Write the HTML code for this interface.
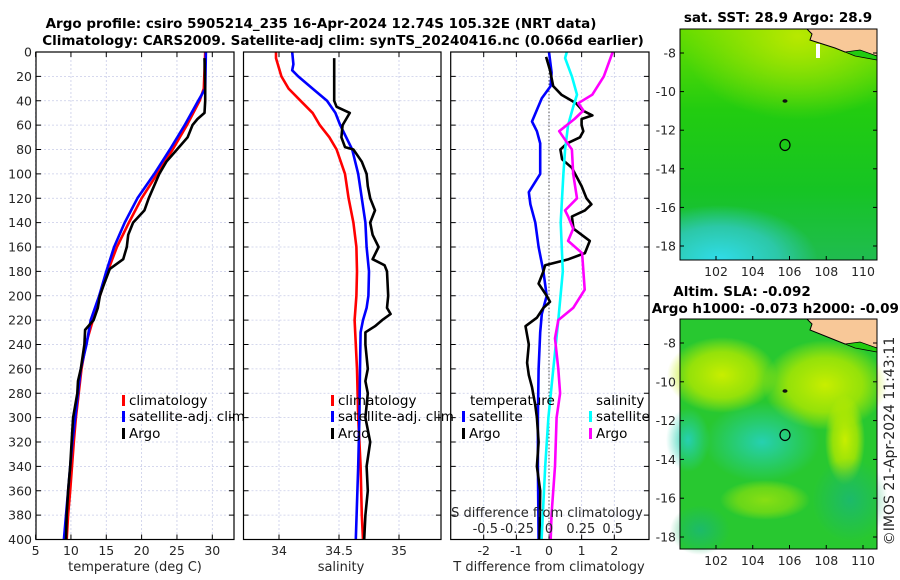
<!DOCTYPE html>
<html><head><meta charset="utf-8">
<style>
html,body{margin:0;padding:0;background:#fff;}
svg{display:block;font-family:"DejaVu Sans","Liberation Sans",sans-serif;}
.tk{font-size:12.5px;fill:#262626;}
.tt{font-size:13.5px;font-weight:bold;fill:#000;}
.lg{font-size:13.5px;fill:#000;}
.at{font-size:13px;fill:#262626;}
</style></head>
<body>
<svg id="fig" width="900" height="580" viewBox="0 0 900 580">
<defs>
<radialGradient id="m1top" cx="0.6" cy="0.05" r="0.6"><stop offset="0" stop-color="#b8e800"/><stop offset="1" stop-color="#b8e800" stop-opacity="0"/></radialGradient>
<radialGradient id="m1bot" cx="0.2" cy="1" r="0.5"><stop offset="0" stop-color="#30dcea"/><stop offset="0.6" stop-color="#2cc8a8"/><stop offset="1" stop-color="#2cc8a8" stop-opacity="0"/></radialGradient>
<linearGradient id="m1base" x1="0" y1="0" x2="0" y2="1"><stop offset="0" stop-color="#66dd00"/><stop offset="0.35" stop-color="#22cc10"/><stop offset="0.7" stop-color="#16c424"/><stop offset="1" stop-color="#20bc50"/></linearGradient>
<radialGradient id="y1" cx="0.5" cy="0.5" r="0.5"><stop offset="0" stop-color="#c8ee00"/><stop offset="0.6" stop-color="#b0e800" stop-opacity="0.8"/><stop offset="1" stop-color="#c8ee00" stop-opacity="0"/></radialGradient>
<radialGradient id="c1" cx="0.5" cy="0.5" r="0.5"><stop offset="0" stop-color="#26d0b0"/><stop offset="1" stop-color="#26d0b0" stop-opacity="0"/></radialGradient>
<radialGradient id="g1" cx="0.5" cy="0.5" r="0.5"><stop offset="0" stop-color="#1cba6a"/><stop offset="1" stop-color="#1cba6a" stop-opacity="0"/></radialGradient>
</defs>

<text class="tt" x="321" y="28" text-anchor="middle">Argo profile: csiro 5905214_235 16-Apr-2024 12.74S 105.32E (NRT data)</text>
<text class="tt" x="343" y="45" text-anchor="middle">Climatology: CARS2009. Satellite-adj clim: synTS_20240416.nc (0.066d earlier)</text>

<g id="p1"></g>
<g id="p2"></g>
<g id="p3"></g>

<!-- Map 1 -->
<g>
<text class="tt" x="778" y="22" text-anchor="middle">sat. SST: 28.9 Argo: 28.9</text>
<rect x="680" y="29" width="197" height="231" fill="url(#m1base)"/>
<rect x="680" y="29" width="197" height="140" fill="url(#m1top)"/>
<rect x="680" y="150" width="197" height="110" fill="url(#m1bot)"/>
<path d="M807,29 L877,29 L877,56 L860,52 L845,52 L835,48 L810,40 L812,34 Z" fill="#f8c898" stroke="#000" stroke-width="1"/>
<path d="M845,52 L860,50 L877,56 L877,60 L855,56 Z" fill="#22cc10" stroke="#000" stroke-width="0.8"/>
<path d="M816,44 L820,44 L820,58 L816,58 Z" fill="#fff"/>
<ellipse cx="785" cy="145" rx="5" ry="5.5" fill="none" stroke="#000" stroke-width="1.2"/>
<ellipse cx="785" cy="101" rx="2.5" ry="1.8" fill="#111"/>
<rect x="680" y="29" width="197" height="231" fill="none" stroke="#000" stroke-width="1"/>
</g>
<g id="m1ax"></g>

<!-- Map 2 -->
<g>
<text class="tt" x="742" y="296" text-anchor="middle">Altim. SLA: -0.092</text>
<text class="tt" x="780" y="313" text-anchor="middle">Argo h1000: -0.073 h2000: -0.091</text>
<rect x="680" y="319" width="197" height="230" fill="#28c830"/>
<ellipse cx="722" cy="375" rx="55" ry="38" fill="url(#y1)"/>
<ellipse cx="825" cy="385" rx="62" ry="45" fill="url(#y1)"/>
<ellipse cx="845" cy="440" rx="20" ry="45" fill="url(#y1)"/>
<ellipse cx="765" cy="500" rx="45" ry="20" fill="url(#y1)" opacity="0.6"/>
<ellipse cx="762" cy="442" rx="58" ry="40" fill="url(#c1)"/>
<ellipse cx="688" cy="440" rx="22" ry="32" fill="url(#c1)"/>
<ellipse cx="850" cy="500" rx="38" ry="42" fill="url(#g1)"/>
<ellipse cx="700" cy="530" rx="30" ry="25" fill="url(#g1)"/>
<path d="M807,319 L877,319 L877,348 L860,344 L845,344 L835,340 L810,330 L812,324 Z" fill="#f8c898" stroke="#000" stroke-width="1"/>
<path d="M845,344 L860,342 L877,348 L877,352 L855,348 Z" fill="#22cc10" stroke="#000" stroke-width="0.8"/>
<ellipse cx="785" cy="435" rx="5" ry="5.5" fill="none" stroke="#000" stroke-width="1.2"/>
<ellipse cx="785" cy="391" rx="2.5" ry="1.8" fill="#111"/>
<rect x="680" y="319" width="197" height="230" fill="none" stroke="#000" stroke-width="1"/>
</g>
<g id="m2ax"></g>
<text transform="translate(894,441) rotate(-90)" text-anchor="middle" style="font-size:14px;fill:#262626">©IMOS 21-Apr-2024 11:43:11</text>
</svg>

<script>
// ---------- data ----------
const depthTick = [0,20,40,60,80,100,120,140,160,180,200,220,240,260,280,300,320,340,360,380,400];
const tempTicks = [5,10,15,20,25,30];
const salTicks = [34,34.5,35];
const tdTicks = [-2,-1,0,1,2];
const sdTicks = [-0.5,-0.25,0,0.25,0.5];

const climTDepth = [0,30,40,60,80,100,120,140,160,180,200,220,240,260,280,300,320,340,360,380,400];
const climTemp   = [29.0,28.8,28.2,26.4,24.4,22.2,20.0,18.2,16.5,15.2,14.1,13.1,12.1,11.5,11.1,10.7,10.4,10.15,9.9,9.6,9.4];
const satTDepth  = [0,30,40,60,80,100,120,140,160,180,200,220,240,260,280,300,320,340,360,380,400];
const satTemp    = [29.1,29.0,28.0,26.1,24.0,21.8,19.4,17.6,16.1,15.0,14.0,12.8,12.2,11.4,11.0,10.6,10.2,9.9,9.6,9.3,9.0];
const argoTDepth = [5,30,40,50,55,60,70,80,90,100,120,130,140,150,160,170,178,190,200,210,220,228,240,260,270,280,300,320,340,360,380,400];
const argoTemp   = [28.9,29.0,29.0,28.9,27.9,27.2,26.5,25.0,23.5,22.5,21.0,20.4,18.8,18.1,17.9,17.4,15.5,14.7,14.1,13.8,13.2,12.0,11.9,11.4,11.0,10.9,10.3,10.1,9.9,9.6,9.4,9.3];

const climSDepth = [0,5,20,30,40,50,60,70,80,100,120,140,160,180,200,220,240,260,300,340,380,400];
const climSal    = [33.975,33.975,34.02,34.08,34.18,34.28,34.34,34.42,34.48,34.55,34.58,34.62,34.645,34.65,34.645,34.63,34.64,34.65,34.66,34.68,34.69,34.70];
const satSDepth  = [0,10,15,20,30,40,50,60,80,100,120,140,160,180,200,210,220,230,260,300,340,400];
const satSal     = [34.11,34.12,34.11,34.16,34.28,34.40,34.47,34.51,34.61,34.66,34.69,34.72,34.73,34.75,34.745,34.73,34.70,34.68,34.675,34.67,34.66,34.64];
const argoSDepth = [5,40,45,50,60,70,78,80,90,100,110,120,130,140,150,160,170,175,180,200,210,215,220,225,230,240,260,270,280,300,320,340,360,380,400];
const argoSal    = [34.46,34.46,34.48,34.59,34.53,34.52,34.55,34.62,34.69,34.73,34.74,34.76,34.80,34.76,34.78,34.83,34.78,34.88,34.90,34.91,34.90,34.93,34.86,34.80,34.72,34.72,34.74,34.72,34.74,34.72,34.76,34.73,34.74,34.72,34.71];

const satTdDepth = [0,17,28,38,57,65,75,100,115,125,140,160,180,200,215,230,260,300,340,400];
const satTdiff   = [0,0.08,0.05,-0.22,-0.52,-0.37,-0.27,-0.27,-0.62,-0.57,-0.42,-0.32,-0.17,-0.07,-0.22,-0.27,-0.32,-0.34,-0.34,-0.32];
const argoTdDepth = [4,15,28,35,42,48,52,55,60,65,70,75,80,88,95,110,120,125,130,135,145,155,165,170,175,180,190,200,205,210,218,225,240,255,265,275,290,300,320,340,360,400];
const argoTdiff   = [-0.09,0.03,0.13,0.38,0.83,1.03,1.33,1.0,1.0,1.05,0.95,0.55,0.35,0.4,0.7,1.0,1.15,1.3,1.1,0.7,0.75,1.25,1.1,0.6,-0.12,-0.17,-0.32,-0.07,0.03,-0.17,-0.37,-0.72,-0.62,-0.67,-0.62,-0.52,-0.42,-0.37,-0.32,-0.37,-0.27,-0.29];
const satSdDepth = [0,5,20,35,45,60,80,100,140,180,220,260,300,340,400];
const satSdiff   = [0.14,0.126,0.18,0.22,0.19,0.15,0.126,0.113,0.092,0.108,0.073,0.034,-0.005,-0.03,-0.058];
const argoSdDepth = [0,20,35,42,48,55,65,72,80,100,120,130,135,145,155,165,180,195,210,220,235,260,280,300,340,380,400];
const argoSdiff   = [0.50,0.43,0.34,0.23,0.27,0.20,0.08,0.126,0.18,0.19,0.22,0.126,0.15,0.19,0.15,0.26,0.27,0.28,0.19,0.073,0.047,0.073,0.087,0.06,0.047,0.02,0.013];

const mapLatTicks = [-8,-10,-12,-14,-16,-18];
const mapLonTicks = [102,104,106,108,110];

// ---------- helpers ----------
const NS = 'http://www.w3.org/2000/svg';
function mk(parent, tag, attrs){ const e=document.createElementNS(NS,tag); for(const k in attrs) e.setAttribute(k,attrs[k]); parent.appendChild(e); return e; }
const Y0=52, Y1=539.5;
const yD = d => Y0 + (d/400)*(Y1-Y0);
function lin(d0,d1,r0,r1){ return v => r0 + (v-d0)/(d1-d0)*(r1-r0); }

function panel(g, x0, x1, xTicks, xs, showDepthLabels, xLabelFmt, tickLabelY){
  xTicks.forEach(t=>{ const gl=mk(g,'line',{x1:xs(t),x2:xs(t),y1:Y0,y2:Y1,stroke:'#c8cce8','stroke-width':0.8,'stroke-dasharray':'2,2'});
      });
  depthTick.forEach(t=>{ if(t===0||t===400) return; const gl=mk(g,'line',{x1:x0,x2:x1,y1:yD(t),y2:yD(t),stroke:'#c8cce8','stroke-width':0.8,'stroke-dasharray':'2,2'});
      });
  depthTick.forEach(t=>{
    mk(g,'line',{x1:x0,x2:x0+5,y1:yD(t),y2:yD(t),stroke:'#000'});
    mk(g,'line',{x1:x1,x2:x1-5,y1:yD(t),y2:yD(t),stroke:'#000'});
    if(showDepthLabels){ const tx=mk(g,'text',{x:x0-4,y:yD(t)+4.5,'text-anchor':'end',class:'tk'}); tx.textContent=t;
        }
  });
  if(tickLabelY){ xTicks.forEach(t=>{ mk(g,'line',{x1:xs(t),x2:xs(t),y1:Y1,y2:Y1-5,stroke:'#000'}); mk(g,'line',{x1:xs(t),x2:xs(t),y1:Y0,y2:Y0+5,stroke:'#000'});
    const tx=mk(g,'text',{x:xs(t),y:tickLabelY,'text-anchor':'middle',class:'tk'}); tx.textContent=xLabelFmt(t);
      }); }
}
function frame(g,x0,x1){ const r=mk(g,'rect',{x:x0,y:Y0,width:x1-x0,height:Y1-Y0,fill:'none',stroke:'#000','stroke-width':1.2});
    }
function series(g, vals, depths, xs, color, name){
  const pts = vals.map((v,i)=>xs(v).toFixed(1)+','+yD(depths[i]).toFixed(1)).join(' ');
  const p=mk(g,'polyline',{points:pts,fill:'none',stroke:color,'stroke-width':2.6,'stroke-linejoin':'round'});
   
}
function legendEntry(g,x,y,color,label,name){
  mk(g,'rect',{x:x,y:y-10,width:3,height:11,fill:color});
  const t=mk(g,'text',{x:x+7,y:y,class:'lg'}); t.textContent=label;
   
}

// ---------- panel 1 ----------
const g1=document.getElementById('p1');
const xT = lin(5,30,35.6,212.3);
panel(g1,36,234,tempTicks,xT,true,t=>t,555);
series(g1,climTemp,climTDepth,xT,'#ff0000','climatology-temp-line');
series(g1,satTemp,satTDepth,xT,'#0000ff','satellite-temp-line');
series(g1,argoTemp,argoTDepth,xT,'#000000','argo-temp-line');
legendEntry(g1,122,405,'#ff0000','climatology','legend-climatology');
legendEntry(g1,122,421,'#0000ff','satellite-adj. clim','legend-satellite');
legendEntry(g1,122,438,'#000000','Argo','legend-argo');
frame(g1,36,234);
{const t=mk(g1,'text',{x:135,y:571,'text-anchor':'middle',class:'at'}); t.textContent='temperature (deg C)';
 }

// ---------- panel 2 ----------
const g2=document.getElementById('p2');
const xS = lin(34,35,279,399);
panel(g2,243.5,441,salTicks,xS,false,t=>t,555);
series(g2,climSal,climSDepth,xS,'#ff0000','climatology-salinity-line');
series(g2,satSal,satSDepth,xS,'#0000ff','satellite-salinity-line');
series(g2,argoSal,argoSDepth,xS,'#000000','argo-salinity-line');
legendEntry(g2,331,405,'#ff0000','climatology','legend-climatology-sal');
legendEntry(g2,331,421,'#0000ff','satellite-adj. clim','legend-satellite-sal');
legendEntry(g2,331,438,'#000000','Argo','legend-argo-sal');
frame(g2,243.5,441);
{const t=mk(g2,'text',{x:341,y:571,'text-anchor':'middle',class:'at'}); t.textContent='salinity';
 }

// ---------- panel 3 ----------
const g3=document.getElementById('p3');
const xTd = lin(0,2,549,614.3);
const xSd = lin(0,0.5,549,612.7);
panel(g3,450.7,649,tdTicks,xTd,false,t=>t,555);
mk(g3,'line',{x1:xTd(0),x2:xTd(0),y1:Y0,y2:Y1,stroke:'#555','stroke-width':1,'stroke-dasharray':'1.5,2'});
series(g3,satTdiff,satTdDepth,xTd,'#0000ff','satellite-temp-diff-line');
series(g3,argoTdiff,argoTdDepth,xTd,'#000000','argo-temp-diff-line');
series(g3,satSdiff,satSdDepth,xSd,'#00ffff','satellite-sal-diff-line');
series(g3,argoSdiff,argoSdDepth,xSd,'#ff00ff','argo-sal-diff-line');
{const t=mk(g3,'text',{x:470,y:405,class:'lg'}); t.textContent='temperature';  }
legendEntry(g3,462,421,'#0000ff','satellite','legend-temp-satellite');
legendEntry(g3,462,438,'#000000','Argo','legend-temp-argo');
{const t=mk(g3,'text',{x:596,y:405,class:'lg'}); t.textContent='salinity';  }
legendEntry(g3,589,421,'#00ffff','satellite','legend-sal-satellite');
legendEntry(g3,589,438,'#ff00ff','Argo','legend-sal-argo');
{const t=mk(g3,'text',{x:547,y:517,'text-anchor':'middle',class:'at'}); t.textContent='S difference from climatology';
 }
sdTicks.forEach(v=>{ const t=mk(g3,'text',{x:xSd(v),y:533,'text-anchor':'middle',class:'at'}); t.textContent=String(v);
    });
frame(g3,450.7,649);
{const t=mk(g3,'text',{x:549,y:571,'text-anchor':'middle',class:'at'}); t.textContent='T difference from climatology';
 }

// ---------- map axes ----------
function mapAxes(id, yTop, yBot, latA, latB){
  const g=document.getElementById(id);
  const ly = lin(-8,-18,latA,latB);
  const lx = lin(102,110,716,863);
  mapLatTicks.forEach(v=>{ mk(g,'line',{x1:680,x2:684,y1:ly(v),y2:ly(v),stroke:'#000'}); mk(g,'line',{x1:877,x2:873,y1:ly(v),y2:ly(v),stroke:'#000'});
    const t=mk(g,'text',{x:676,y:ly(v)+4.5,'text-anchor':'end',class:'tk'}); t.textContent=v;
      });
  mapLonTicks.forEach(v=>{ mk(g,'line',{x1:lx(v),x2:lx(v),y1:yBot,y2:yBot-4,stroke:'#000'});
    const t=mk(g,'text',{x:lx(v),y:yBot+16,'text-anchor':'middle',class:'tk'}); t.textContent=v;
      });
}
mapAxes('m1ax',29,260,53,246);
mapAxes('m2ax',319,549,343,537);
</script>
</body></html>
